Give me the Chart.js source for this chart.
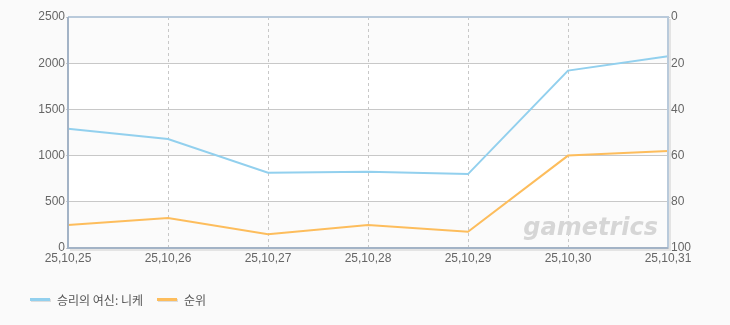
<!DOCTYPE html>
<html>
<head>
<meta charset="utf-8">
<script src="https://cdn.jsdelivr.net/npm/chart.js@4"></script>
<style>
  body { margin: 0; background: #fafafa; font-family: 'Noto Sans CJK KR', 'DejaVu Sans', sans-serif; }
  #wrap { position: relative; width: 730px; height: 325px; }
  #legend { position: absolute; left: 30px; top: 291px; font-size: 12px; color: #555; display: flex; }
  #legend span.item { display: flex; align-items: center; margin-right: 14px; }
  #legend span.swatch { display: inline-block; width: 20px; height: 3px; margin-right: 7px; box-shadow: 1px 1px 0 #ddd; }
</style>
</head>
<body>
<div id="wrap">
  <canvas id="chart" width="730" height="325"></canvas>
  <div id="legend"></div>
</div>
<script>
const dates = ['25,10,25', '25,10,26', '25,10,27', '25,10,28', '25,10,29', '25,10,30', '25,10,31'];
const players = [1290, 1180, 815, 825, 800, 1920, 2075];
const ranks = [90, 87, 94, 90, 93, 60, 58];
const leftTicks = [0, 500, 1000, 1500, 2000, 2500];
const rightTicks = [0, 20, 40, 60, 80, 100];
const seriesNames = ['승리의 여신: 니케', '순위'];
const seriesColors = ['#92d0ee', '#fdbd5c'];

// alternating background bands, frame and watermark
const framePlugin = {
  id: 'frame',
  beforeDraw(chart) {
    const { ctx, chartArea: a, scales } = chart;
    const y = scales.y;
    ctx.save();
    for (let i = 0; i < leftTicks.length - 1; i++) {
      const top = y.getPixelForValue(leftTicks[i + 1]);
      const bot = y.getPixelForValue(leftTicks[i]);
      ctx.fillStyle = (leftTicks.length - 2 - i) % 2 === 0 ? '#fbfbfb' : '#ffffff';
      ctx.fillRect(a.left, top, a.right - a.left, bot - top);
    }
    ctx.restore();
  },
  beforeDatasetsDraw(chart) {
    const { ctx, chartArea: a } = chart;
    ctx.save();
    ctx.font = 'italic bold 24px "DejaVu Sans", sans-serif';
    ctx.fillStyle = '#d6d6d6';
    ctx.textAlign = 'right';
    ctx.textBaseline = 'alphabetic';
    ctx.fillText('gametrics', a.right - 10, a.bottom - 13);
    ctx.restore();
  },
  afterDraw(chart) {
    const { ctx, chartArea: a } = chart;
    ctx.save();
    // shadow
    ctx.strokeStyle = '#e4e4e4';
    ctx.lineWidth = 2;
    ctx.beginPath();
    ctx.moveTo(a.right + 2, a.top + 2);
    ctx.lineTo(a.right + 2, a.bottom + 2);
    ctx.lineTo(a.left + 2, a.bottom + 2);
    ctx.stroke();
    ctx.strokeStyle = '#b9cadb';
    ctx.beginPath();
    ctx.moveTo(a.left, a.top);
    ctx.lineTo(a.right, a.top);
    ctx.lineTo(a.right, a.bottom);
    ctx.stroke();
    ctx.strokeStyle = '#a3b3c6';
    ctx.beginPath();
    ctx.moveTo(a.left, a.top);
    ctx.lineTo(a.left, a.bottom);
    ctx.lineTo(a.right, a.bottom);
    ctx.stroke();
    ctx.restore();
  }
};

const tickFont = { family: "'Liberation Sans', sans-serif", size: 12 };

new Chart(document.getElementById('chart'), {
  type: 'line',
  data: {
    labels: dates,
    datasets: [
      {
        label: seriesNames[0],
        data: players,
        borderColor: seriesColors[0],
        borderWidth: 2,
        pointRadius: 0,
        tension: 0,
        yAxisID: 'y',
      },
      {
        label: seriesNames[1],
        data: ranks,
        borderColor: seriesColors[1],
        borderWidth: 2,
        pointRadius: 0,
        tension: 0,
        yAxisID: 'y1',
      },
    ],
  },
  options: {
    responsive: false,
    animation: false,
    layout: { padding: { top: 17, left: 0, right: 0, bottom: 0 } },
    plugins: { legend: { display: false }, tooltip: { enabled: false } },
    scales: {
      x: {
        offset: false,
        grid: {
          color: ctx => (ctx.index === 0 || ctx.index === dates.length - 1) ? 'rgba(0,0,0,0)' : '#c8c8c8',
          tickLength: 0,
        },
        border: { display: false, dash: [3, 3] },
        ticks: { color: '#666', font: tickFont, padding: 3, maxRotation: 0, autoSkip: false },
        afterFit(scale) { scale.height = 77; },
      },
      y: {
        position: 'left',
        min: 0,
        max: 2500,
        grid: { color: '#c8c8c8', tickLength: 2, drawTicks: true },
        border: { display: false },
        ticks: { color: '#666', font: tickFont, padding: 1, callback: v => String(v) },
        afterBuildTicks(scale) { scale.ticks = leftTicks.map(v => ({ value: v })); },
        afterFit(scale) { scale.width = 68; },
      },
      y1: {
        position: 'right',
        reverse: true,
        min: 0,
        max: 100,
        grid: { drawOnChartArea: false, tickLength: 2, color: '#c8c8c8' },
        border: { display: false },
        ticks: { color: '#666', font: tickFont, padding: 1, callback: v => String(v) },
        afterBuildTicks(scale) { scale.ticks = rightTicks.map(v => ({ value: v })); },
        afterFit(scale) { scale.width = 62; },
      },
    },
  },
  plugins: [framePlugin],
});

const legend = document.getElementById('legend');
seriesNames.forEach((name, i) => {
  const item = document.createElement('span');
  item.className = 'item';
  item.innerHTML = '<span class="swatch" style="background:' + seriesColors[i] + '"></span>' + name;
  legend.appendChild(item);
});
</script>
</body>
</html>
